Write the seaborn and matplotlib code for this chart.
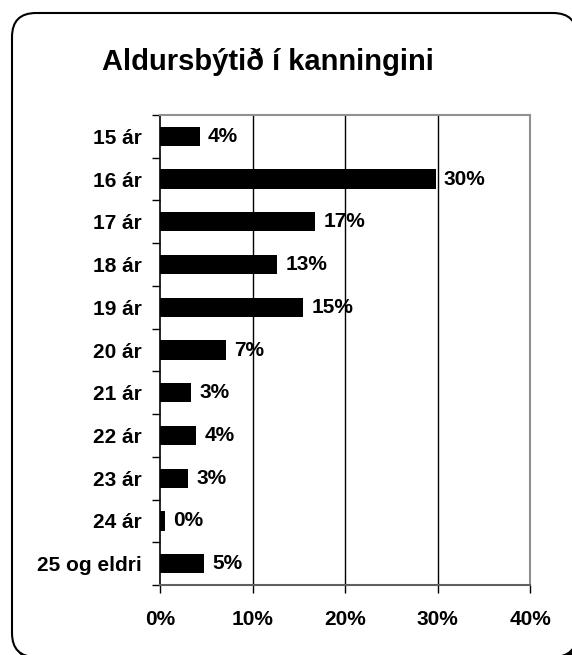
import numpy as np
import pandas as pd
import matplotlib
matplotlib.use('Agg')
import matplotlib.pyplot as plt
import seaborn as sns
from matplotlib.patches import FancyBboxPatch
from matplotlib.transforms import IdentityTransform
from matplotlib.ticker import FuncFormatter, FixedLocator

# data
categories = ['15 ár', '16 ár', '17 ár', '18 ár', '19 ár', '20 ár',
              '21 ár', '22 ár', '23 ár', '24 ár', '25 og eldri']
shares = [4.3, 29.8, 16.8, 12.7, 15.5, 7.1, 3.4, 3.9, 3.0, 0.5, 4.8]
bar_labels = ['4%', '30%', '17%', '13%', '15%', '7%', '3%', '4%', '3%', '0%', '5%']
x_ticks = [0, 10, 20, 30, 40]

sns.set_style('white')
plt.rcParams['font.family'] = ['Liberation Sans', 'DejaVu Sans']
plt.rcParams['text.color'] = 'black'
plt.rcParams['xtick.color'] = 'black'
plt.rcParams['ytick.color'] = 'black'

W, H = 572, 655
fig = plt.figure(figsize=(W / 100, H / 100), dpi=100)

# rounded frame with a small shadow, running off the right/bottom edge
shadow = FancyBboxPatch((16, -6), 565, 644, boxstyle='round,pad=0,rounding_size=24',
                        transform=IdentityTransform(), facecolor='black',
                        edgecolor='black', lw=1.5, zorder=-3)
frame = FancyBboxPatch((12, -2), 565, 644, boxstyle='round,pad=0,rounding_size=24',
                       transform=IdentityTransform(), facecolor='white',
                       edgecolor='black', lw=1.5, zorder=-2)
fig.add_artist(shadow)
fig.add_artist(frame)

ax = fig.add_axes([160 / W, 1 - 585 / H, 370 / W, 470 / H])
df = pd.DataFrame({'Aldur': categories, 'Partur': shares})
sns.barplot(data=df, x='Partur', y='Aldur', color='black', saturation=1,
            width=0.45, linewidth=0, ax=ax)

ax.set_xlim(0, 40)
ax.set_ylim(len(categories) - 0.5, -0.5)
ax.set_xlabel('')
ax.set_ylabel('')
ax.xaxis.set_major_locator(FixedLocator(x_ticks))
ax.xaxis.set_major_formatter(FuncFormatter(lambda v, p: f'{v:.0f}%'))
ax.yaxis.set_minor_locator(FixedLocator(np.arange(-0.5, len(categories), 1.0)))

ax.grid(False)
for v in x_ticks[1:-1]:
    ax.axvline(v, color='black', lw=1, zorder=0)

ax.tick_params(axis='y', which='major', length=0, pad=13, labelsize=15)
ax.tick_params(axis='y', which='minor', length=6, width=1, color='black',
               direction='out', left=True)
ax.tick_params(axis='x', which='major', length=6, width=1, color='black',
               direction='out', bottom=True, pad=12, labelsize=15)
for lab in ax.get_xticklabels() + ax.get_yticklabels():
    lab.set_fontweight('bold')

ax.spines['left'].set_color('black')
ax.spines['left'].set_linewidth(1.2)
ax.spines['bottom'].set_color('#606060')
ax.spines['bottom'].set_linewidth(1.5)
ax.spines['top'].set_color('#909090')
ax.spines['top'].set_linewidth(1.5)
ax.spines['right'].set_color('#909090')
ax.spines['right'].set_linewidth(1.5)
for s in ax.spines.values():
    s.set_visible(True)

ax.bar_label(ax.containers[0], labels=bar_labels, padding=6,
             fontsize=15, fontweight='bold')

fig.text(268 / W, 1 - 62 / H, 'Aldursbýtið í kanningini', ha='center', va='center',
         fontsize=21, fontweight='bold')

fig.savefig('out.png', dpi=100)
